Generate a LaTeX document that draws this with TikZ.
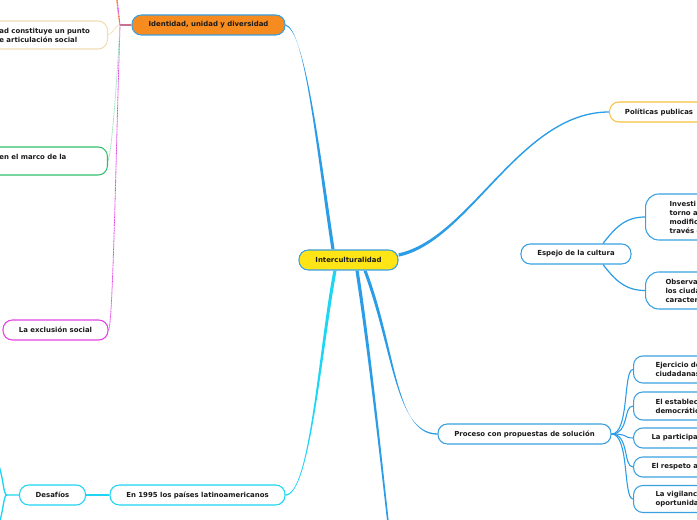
\documentclass[tikz,border=0pt]{standalone}
\usepackage{fontspec}
\setmainfont{DejaVu Sans}
\usetikzlibrary{calc}
\definecolor{cblue}{HTML}{2B9DE6}
\definecolor{nblue}{HTML}{3AA0E0}
\definecolor{ccyan}{HTML}{1ED6F4}
\definecolor{cyel}{HTML}{FFE516}
\definecolor{corange}{HTML}{F68B1F}
\definecolor{cbeige}{HTML}{F1DDB3}
\definecolor{cgreen}{HTML}{2FBF6A}
\definecolor{cmag}{HTML}{E444E4}
\definecolor{cpol}{HTML}{F7C23F}
\definecolor{cbrown}{HTML}{C87090}
\definecolor{txt}{HTML}{1A1A1A}
\pgfdeclarelayer{bg}
\pgfsetlayers{bg,main}
\newcommand\fnt{\fontsize{5.2}{6.75}\selectfont\bfseries}
\newcommand\taper[7]{\fill[#1] ($#2+#6$) .. controls ($#3+#6$) and ($#4+#7$) .. ($#5+#7$) -- ($#5-#7$) .. controls ($#4-#7$) and ($#3-#6$) .. ($#2-#6$) -- cycle;}
\begin{document}
\begin{tikzpicture}[x=0.75pt,y=-0.75pt,
  box/.style={rounded corners=7pt,line width=0.8pt,font=\fnt,text=txt,inner ysep=0pt,inner xsep=0pt,minimum height=15pt,fill=white},
  cbox/.style={box,draw=nblue,align=center},
  sidebox/.style={box,draw=nblue,anchor=west,align=left,text width=100pt},
  leftbox/.style={box,anchor=east,align=left,text width=68pt,inner xsep=13pt,minimum height=21pt},
  thinline/.style={line width=0.6pt,dash pattern=on 0.8pt off 0.4pt},
  conn/.style={cblue,line width=0.8pt}]
\useasboundingbox (0,0) rectangle (697,520);
\clip (0,0) rectangle (697,520);
% nodes
\node[cbox,fill=cyel,minimum width=74.25pt] (c) at (348.5,260) {Interculturalidad};
\node[cbox,fill=corange,minimum width=114.75pt] (id) at (208.5,25) {Identidad, unidad y diversidad};
\node[leftbox,draw=cbeige] (ad) at (108,35) {ad constituye un punto\\e articulación social};
\node[leftbox,draw=cgreen] (gr) at (108,161) {en el marco de la\\~};
\node[cbox,draw=cmag,minimum width=78.75pt] (ex) at (55.5,330) {La exclusión social};
\node[cbox,draw=cpol,anchor=west,minimum width=74.25pt] (po) at (609,112) {Políticas publicas};
\node[cbox,minimum width=82.5pt] (es) at (576,254) {Espejo de la cultura};
\node[sidebox,inner xsep=18pt,minimum height=34.5pt,rounded corners=10pt] (inv) at (645,217) {Investi\\torno a\\modific\\través d};
\node[sidebox,inner xsep=15pt,minimum height=27.75pt,rounded corners=10pt] (obs) at (645,290.5) {Observa\\los ciuda\\caracter};
\node[cbox,minimum width=129.75pt] (pr) at (524.5,434) {Proceso con propuestas de solución};
\node[sidebox,inner xsep=16.5pt,minimum height=20.25pt] (ej) at (633,369.5) {Ejercicio de\\ciudadanas};
\node[sidebox,inner xsep=16.5pt,minimum height=21pt] (est) at (633,406) {El establec\\democrátic};
\node[sidebox,inner xsep=13.5pt] (par) at (633,438) {La participa};
\node[sidebox,inner xsep=13.5pt] (res) at (633,467) {El respeto a};
\node[sidebox,inner xsep=16.5pt,minimum height=20.25pt] (vig) at (633,499) {La vigilanc\\oportunida};
\node[cbox,draw=ccyan,minimum width=131.25pt] (en) at (197.5,495) {En 1995 los países latinoamericanos};
\node[cbox,draw=ccyan,minimum width=49.5pt] (de) at (52.5,495) {Desafíos};
% coordinates
\coordinate (cid) at ($(c.north)+(-15.5,0)$);
\coordinate (cpo) at ($(c.east)+(0,-5)$);
\coordinate (cpr) at ($(c.south)+(16.5,0)$);
\coordinate (cbt) at ($(c.south)+(8.5,0)$);
\coordinate (cen) at ($(c.south)+(-13.5,0)$);
\coordinate (bot) at (390,540);
\coordinate (idj) at (120,25);
\coordinate (top1) at (116,-8);
\coordinate (dej) at (7,495);
\coordinate (deu) at (-3,460);
\coordinate (ded) at (-3,530);
\coordinate (esu) at ($(es.north)+(27,0)$);
\coordinate (esd) at ($(es.south)+(27,0)$);
% connectors
\begin{pgfonlayer}{bg}
\clip (0,0) rectangle (697,520);
\fill[white] (0,0) rectangle (697,520);
\taper{cblue}{(cid)}{(318,150)}{(305,30)}{(id.east)}{(1.6,0)}{(0,0.65)}
\taper{cblue}{(cpo)}{(470,240)}{(520,112)}{(po.west)}{(0,1.7)}{(0,0.65)}
\taper{cblue}{(cpr)}{(395,350)}{(395,434)}{(pr.west)}{(1.6,0)}{(0,0.65)}
\taper{cblue}{(cbt)}{(368,340)}{(380,450)}{(bot)}{(1.6,0)}{(0.8,0)}
\taper{ccyan}{(cen)}{(320,350)}{(310,495)}{(en.east)}{(1.6,0)}{(0,0.65)}
\draw[ccyan,line width=1pt] (de.east) -- (en.west);
\draw[ccyan,line width=1pt] (de.west) -- (dej) .. controls (3,495) and (4,478) .. (deu);
\draw[ccyan,line width=1pt] (dej) .. controls (3,495) and (4,512) .. (ded);
\draw[cbrown,line width=1pt] (id.west) -- (idj);
\draw[thinline,cmag] (idj) .. controls (116,150) and (113,325) .. (ex.east);
\draw[thinline,cgreen!45] (idj) .. controls (117,80) and (112,150) .. (gr.east);
\draw[thinline,cbeige] (idj) .. controls (115,25) and (112,35) .. (ad.east);
\draw[thinline,corange] (idj) .. controls (118,15) and (117,5) .. (top1);
\draw[thinline,cmag] (idj) .. controls (119,15) and (118,5) .. (top1);
\draw[conn,line width=0.9pt] (esu) .. controls (615,228) and (625,217) .. (inv.west);
\draw[conn,line width=0.9pt] (esd) .. controls (615,280) and (625,290.5) .. (obs.west);
\foreach \n in {ej,est,par,res,vig}
  \draw[conn] (pr.east) .. controls ($(pr.east)+(18,0)$) and ($(\n.west)+(-10,0)$) .. (\n.west);
\end{pgfonlayer}
\end{tikzpicture}
\end{document}
